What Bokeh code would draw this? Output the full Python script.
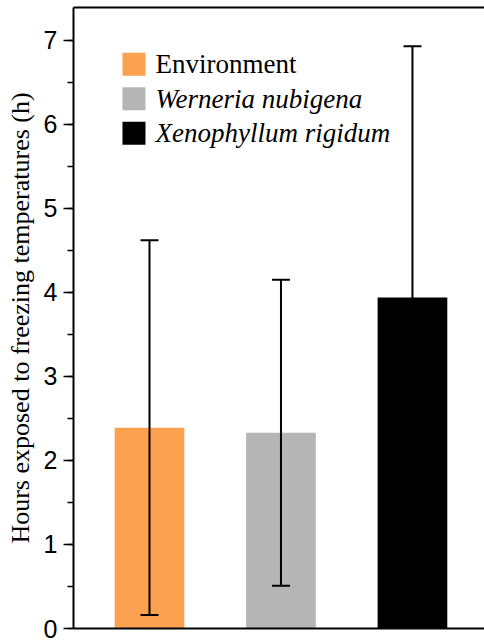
from bokeh.plotting import figure
from bokeh.models import (Range1d, LinearAxis, FixedTicker, SingleIntervalTicker,
                          ColumnDataSource, Whisker, TeeHead)
from bokeh.core.properties import value
from bokeh.embed import file_html
from bokeh.resources import INLINE

# ---- data ----
groups = ["Environment", "Werneria nubigena", "Xenophyllum rigidum"]
group_styles = ["normal", "italic", "italic"]
means = [2.39, 2.33, 3.94]
errors = [2.23, 1.82, 2.99]
colors = ["#FBA150", "#B5B5B5", "#000000"]
y_ticks = [0, 1, 2, 3, 4, 5, 6, 7]
y_label = "Hours exposed to freezing temperatures (h)"

xs = [1, 2, 3]
upper = [m + e for m, e in zip(means, errors)]
lower = [m - e for m, e in zip(means, errors)]

p = figure(width=484, height=644, output_backend="svg", toolbar_location=None,
           x_range=Range1d(0.422, 3.548), y_range=Range1d(0, 7.39),
           min_border_left=73, min_border_right=0, min_border_top=7,
           min_border_bottom=16)
p.outline_line_color = None
p.grid.visible = False
p.background_fill_color = "white"

# bars
src = ColumnDataSource(dict(x=xs, top=means, color=colors, upper=upper, lower=lower))
p.vbar(x="x", top="top", width=0.53, fill_color="color", line_color=None, source=src)

# error bars
w = Whisker(base="x", upper="upper", lower="lower", source=src, level="overlay",
            line_color="black", line_width=2,
            upper_head=TeeHead(size=18, line_width=2, line_color="black"),
            lower_head=TeeHead(size=18, line_width=2, line_color="black"))
p.add_layout(w)

# y axis
ya = p.yaxis[0]
ya.ticker = SingleIntervalTicker(interval=1, num_minor_ticks=2)
ya.axis_line_width = 2
ya.major_tick_line_width = 1.5
ya.minor_tick_line_width = 1.5
ya.major_tick_out = 10
ya.major_tick_in = 0
ya.minor_tick_out = 6
ya.minor_tick_in = 0
ya.major_label_text_font = "Liberation Sans"
ya.major_label_text_font_size = "25px"
ya.major_label_text_color = "black"
ya.major_label_standoff = 6
ya.axis_label = y_label
ya.axis_label_text_font = "Liberation Serif"
ya.axis_label_text_font_style = "normal"
ya.axis_label_text_font_size = "26px"
ya.axis_label_standoff = 6
ya.axis_label_text_color = "black"

# x axis (line only)
xa = p.xaxis[0]
xa.ticker = FixedTicker(ticks=[])
xa.axis_line_width = 2
xa.major_tick_line_color = None
xa.minor_tick_line_color = None
xa.major_label_text_font_size = "0px"
xa.major_label_standoff = 0

# top border line
top = LinearAxis(ticker=FixedTicker(ticks=[]), axis_line_width=2,
                 major_tick_line_color=None, minor_tick_line_color=None,
                 major_label_text_font_size="0px", major_label_standoff=0)
p.add_layout(top, "above")

# legend (drawn manually so two entries can be italic)
leg_y = [6.714, 6.304, 5.893]
leg_src = ColumnDataSource(dict(x=[0.882] * 3, y=leg_y, tx=[1.046] * 3,
                                color=colors, label=groups, style=group_styles))
p.scatter(x="x", y="y", marker="square", size=23, fill_color="color",
          line_color=None, source=leg_src)
p.text(x="tx", y="y", text="label", text_font=value("Liberation Serif"),
       text_font_size="27px", text_font_style="style", text_baseline="middle",
       text_color="black", source=leg_src)

open("out.html", "w").write(file_html(p, INLINE))
